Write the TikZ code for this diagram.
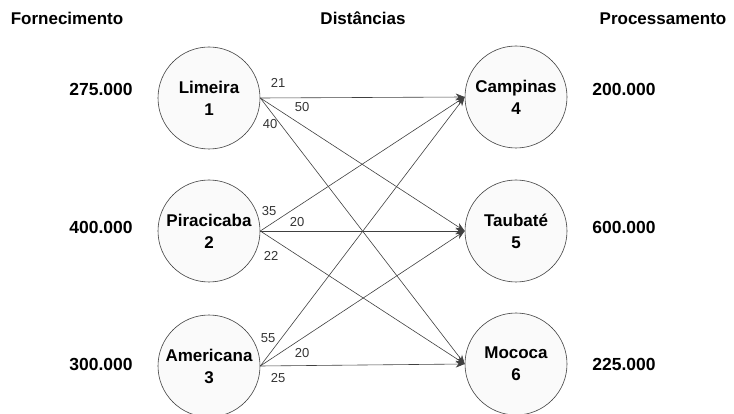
\documentclass[tikz,border=0pt]{standalone}
\usepackage{fontspec}
\setmainfont{Liberation Sans}
\usetikzlibrary{arrows.meta}
\begin{document}
\begin{tikzpicture}[x=1pt,y=-1pt,
  place/.style={circle,draw=black!75,fill=black!2,line width=0.6pt,minimum size=102pt,inner sep=0pt,align=center,font=\bfseries\fontsize{17}{22}\selectfont},
  head/.style={font=\bfseries\fontsize{17}{20}\selectfont,anchor=base},
  qty/.style={font=\bfseries\fontsize{17.5}{20}\selectfont},
  dist/.style={font=\fontsize{13}{15}\selectfont,text=black!80},
  link/.style={draw=black!75,line width=0.6pt,-{Stealth[length=9pt,width=7pt]}}]
\useasboundingbox (0,0) rectangle (734,414);
\node[head] (h1) at (67,25) {Fornecimento};
\node[head] (h2) at (363,25) {Distâncias};
\node[head] (h3) at (663,25) {Processamento};
\node[place] (s1) at (209,98) {Limeira\\1};
\node[place] (s2) at (209,231) {Piracicaba\\2};
\node[place] (s3) at (209,366) {Americana\\3};
\node[place] (d1) at (516,97) {Campinas\\4};
\node[place] (d2) at (516,231) {Taubaté\\5};
\node[place] (d3) at (516,364) {Mococa\\6};
\node[qty] (q1) at (101,89) {275.000};
\node[qty] (q2) at (101,227) {400.000};
\node[qty] (q3) at (101,364) {300.000};
\node[qty] (p1) at (624,89) {200.000};
\node[qty] (p2) at (624,227) {600.000};
\node[qty] (p3) at (624,364) {225.000};
\foreach \s in {1,2,3}{\foreach \d in {1,2,3}{\draw[link] (s\s.east) -- (d\d.west);}}
\node[dist] (l11) at (278,83) {21};
\node[dist] (l12) at (302,107) {50};
\node[dist] (l13) at (270,124) {40};
\node[dist] (l21) at (269,211) {35};
\node[dist] (l22) at (297,222) {20};
\node[dist] (l23) at (271,256) {22};
\node[dist] (l31) at (268,338) {55};
\node[dist] (l32) at (302,353) {20};
\node[dist] (l33) at (278,378) {25};
\end{tikzpicture}
\end{document}
